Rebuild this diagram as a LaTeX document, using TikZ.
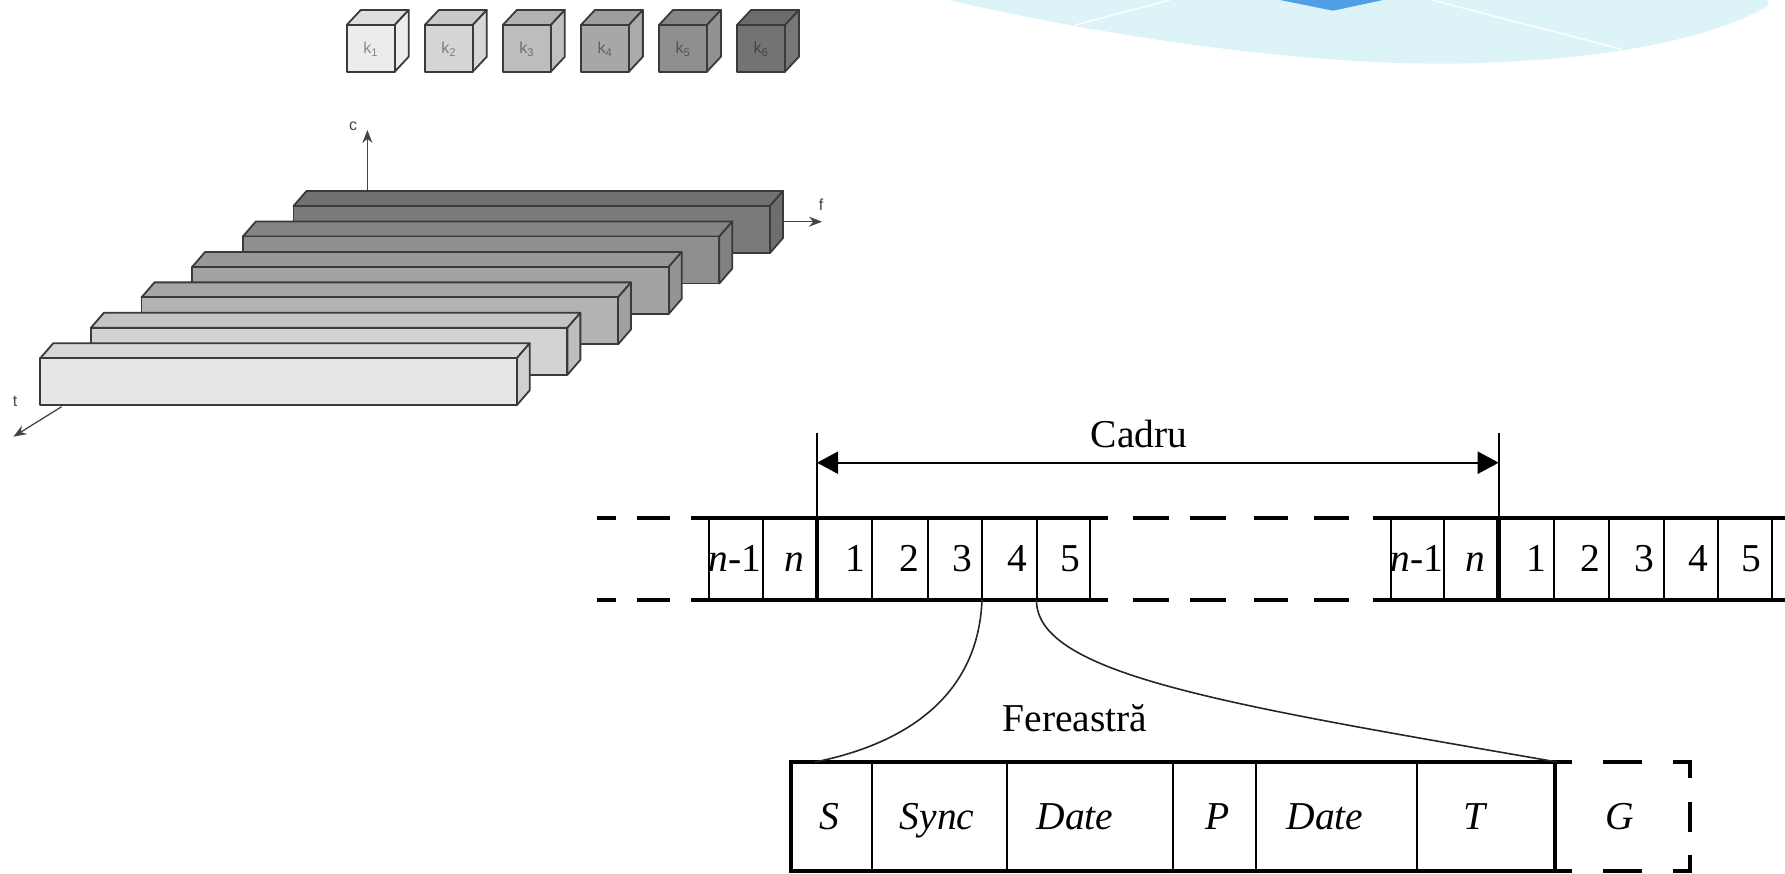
\documentclass[tikz,border=0pt]{standalone}
\usepackage{fontspec}
\setmainfont{Liberation Serif}
\newfontfamily\lsans{Liberation Sans}
\usetikzlibrary{arrows.meta}
\definecolor{edgegray}{HTML}{3A3A3A}
\definecolor{axisgray}{HTML}{444444}
\definecolor{skycyan}{RGB}{220,244,248}
\definecolor{skyblue}{RGB}{79,159,230}
\tikzset{
  cubeedge/.style={draw=edgegray, line width=1.8pt, line join=round},
  baredge/.style={draw=edgegray, line width=1.8pt, line join=round},
  klabel/.style={font=\lsans\fontsize{16}{18}\selectfont, inner sep=0pt},
  axisline/.style={draw=axisgray, line width=1.3pt, -{Stealth[length=13pt,width=10pt]}},
  axlabel/.style={font=\lsans\fontsize{16}{18}\selectfont, text=axisgray, inner sep=0pt},
  rowline/.style={line width=4pt},
  thindiv/.style={line width=2pt},
  thickdiv/.style={line width=4.5pt},
  rowtext/.style={font=\fontsize{39.5}{41}\selectfont, inner sep=0pt, anchor=base},
  zoomcurve/.style={draw=black!85, line width=1.6pt},
  cadruarrow/.style={line width=2pt, {Triangle[length=21pt,width=22pt]}-{Triangle[length=21pt,width=22pt]}},
}
\begin{document}
\begin{tikzpicture}[x=1pt,y=-1pt]
\useasboundingbox (0,0) rectangle (1785,873);

% decorative cyan shape at the top right
\fill[skycyan] (948,0) .. controls (1100,35) and (1300,66) .. (1460,63.5)
   .. controls (1580,61) and (1700,45) .. (1768,6) -- (1768,0) -- cycle;
\draw[white, line width=1.2pt] (1075,25) -- (1170,0);
\draw[white, line width=1.2pt] (1622,49.3) -- (1432,0);
\fill[skyblue] (1280,0) -- (1333,10.7) -- (1383,0) -- cycle;

% cubes k1..k6
\foreach \i/\c in {1/ECECEC,2/D6D6D6,3/BDBDBD,4/A7A7A7,5/8F8F8F,6/737373}{
  \pgfmathsetmacro\xo{346.7+78.06*(\i-1)}
  \definecolor{face}{HTML}{\c}
  \filldraw[cubeedge, fill=face!94!black] (\xo,25) -- (\xo+14,10) -- (\xo+62,10) -- (\xo+48,25) -- cycle;
  \filldraw[cubeedge, fill=face!97!white] (\xo+48,25) -- (\xo+62,10) -- (\xo+62,56.7) -- (\xo+48,71.7) -- cycle;
  \filldraw[cubeedge, fill=face] (\xo,25) rectangle (\xo+48,71.7);
  \node[klabel, text=face!58!black] (k\i) at (\xo+24,49) {k\textsubscript{\i}};
}

% bars (back to front)
\foreach \i/\c in {6/7A7A7A,5/8F8F8F,4/A3A3A3,3/B3B3B3,2/D3D3D3,1/E7E7E7}{
  \pgfmathsetmacro\xo{40.2+50.66*(\i-1)}
  \pgfmathsetmacro\yo{358.3-30.46*(\i-1)}
  \definecolor{face}{HTML}{\c}
  \filldraw[baredge, fill=face!93!black] (\xo,\yo) -- (\xo+13,\yo-15) -- (\xo+489.5,\yo-15) -- (\xo+476.5,\yo) -- cycle;
  \filldraw[baredge, fill=face!90!black] (\xo+476.5,\yo) -- (\xo+489.5,\yo-15) -- (\xo+489.5,\yo+32) -- (\xo+476.5,\yo+47) -- cycle;
  \filldraw[baredge, fill=face] (\xo,\yo) rectangle (\xo+476.5,\yo+47);
}

% axes
\coordinate (cbase) at (367.4,190);
\coordinate (ctip) at (367.4,130);
\coordinate (fbase) at (782,221.7);
\coordinate (ftip) at (822,221.7);
\coordinate (tbase) at (61.6,406.7);
\coordinate (ttip) at (13.4,436.7);
\draw[axisline] (cbase) -- (ctip);
\draw[axisline] (fbase) -- (ftip);
\draw[axisline] (tbase) -- (ttip);
\node[axlabel] (lc) at (353,126) {c};
\node[axlabel] (lf) at (821,205) {f};
\node[axlabel] (lt) at (15,401) {t};

% frame row
\draw[rowline] (691,518) -- (1108,518);
\draw[rowline] (691,600) -- (1108,600);
\draw[rowline] (1373,518) -- (1785,518);
\draw[rowline] (1373,600) -- (1785,600);
\foreach \a/\b in {597/616,637/670,1133/1169,1190/1226,1254/1288,1314/1349}{
  \draw[rowline] (\a,518) -- (\b,518);
  \draw[rowline] (\a,600) -- (\b,600);
}
\foreach \x in {709,762.5,872,927.5,982,1036.5,1090,1390.7,1444.2,1553.7,1609.2,1663.7,1718.2,1771.7}{
  \draw[thindiv] (\x,518) -- (\x,600);
}
\draw[thickdiv] (817,518) -- (817,600);
\draw[thickdiv] (1498.7,518) -- (1498.7,600);

% cell labels
\foreach \o/\s in {0/a,681.7/b}{
  \node[rowtext] (nm\s) at (735+\o,571.7) {\textit{n}-1};
  \node[rowtext] (nn\s) at (794+\o,571.7) {\textit{n}};
  \node[rowtext] (one\s) at (855+\o,571.7) {1};
  \node[rowtext] (two\s) at (909+\o,571.7) {2};
  \node[rowtext] (three\s) at (962.5+\o,571.7) {3};
  \node[rowtext] (four\s) at (1017+\o,571.7) {4};
  \node[rowtext] (five\s) at (1070+\o,571.7) {5};
}

% Cadru dimension
\coordinate (cadLtop) at (817,433);
\coordinate (cadLbot) at (817,518);
\coordinate (cadRtop) at (1498.7,433);
\coordinate (cadRbot) at (1498.7,518);
\coordinate (cadL) at (817,462.7);
\coordinate (cadR) at (1498.7,462.7);
\draw[thindiv] (cadLtop) -- (cadLbot);
\draw[thindiv] (cadRtop) -- (cadRbot);
\draw[cadruarrow] (cadL) -- (cadR);
\node[rowtext] (cadru) at (1139,447) {Cadru};

% window box
\draw[rowline] (1572,762) -- (790.6,762) -- (790.6,871) -- (1572,871);
\foreach \x in {871.6,1007.4,1173.3,1255.5,1416.9}{
  \draw[thindiv] (\x,762) -- (\x,871);
}
\draw[thickdiv] (1555,762) -- (1555,871);
\draw[rowline] (1603,762) -- (1642,762);
\draw[rowline] (1673,762) -- (1690,762) -- (1690,778);
\draw[rowline] (1690,801.7) -- (1690,831.7);
\draw[rowline] (1690,855) -- (1690,871) -- (1673,871);
\draw[rowline] (1642,871) -- (1603,871);

\node[rowtext] (ws) at (829,829) {\textit{S}};
\node[rowtext] (wsync) at (937,829) {\textit{Sync}};
\node[rowtext] (wdate1) at (1075,829) {\textit{Date}};
\node[rowtext] (wp) at (1218,829) {\textit{P}};
\node[rowtext] (wdate2) at (1325,829) {\textit{Date}};
\node[rowtext] (wt) at (1476,829) {\textit{T}};
\node[rowtext] (wg) at (1620,829) {\textit{G}};
\node[rowtext] (fer) at (1075,731) {Fereastră};

% zoom curves
\coordinate (c34) at (982,600);
\coordinate (c45) at (1036.5,600);
\coordinate (wl) at (815,762);
\coordinate (wr) at (1557,762);
\draw[zoomcurve] (c34) .. controls (978,700) and (900,745) .. (wl);
\draw[zoomcurve] (c45) .. controls (1036,675) and (1230,705) .. (wr);
\end{tikzpicture}
\end{document}
